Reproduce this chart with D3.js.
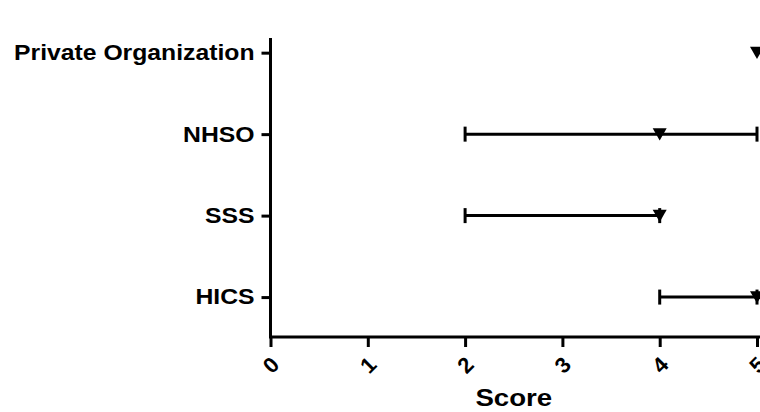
<!DOCTYPE html>
<html><head><meta charset="utf-8">
<script src="https://cdn.jsdelivr.net/npm/d3@7"></script>
<style>body{margin:0;background:#fff}svg{display:block}text{font-family:Arial,"Liberation Sans",sans-serif;font-weight:bold;fill:#000}</style>
</head><body>
<svg id="chart" width="760" height="412"></svg>
<script>
const categories = ["HICS", "SSS", "NHSO", "Private Organization"];
const medians = [5, 4, 4, 5];
const lows = [4, 2, 2, 5];
const highs = [5, 4, 5, 5];
const xTicks = [0, 1, 2, 3, 4, 5];
const xTitle = "Score";

const svg = d3.select("#chart");
const x = d3.scaleLinear().domain([0, 5]).range([270.5, 757]);
const y = d3.scaleLinear().domain([-0.49, 3.18]).range([337, 38]);
const stretch = 1.15;

// y axis
const yAxis = svg.append("g").attr("transform", `translate(${x(0)},0)`)
  .call(d3.axisLeft(y).tickValues(d3.range(categories.length)).tickFormat(i => categories[i]).tickSize(9).tickSizeOuter(0).tickPadding(7));
yAxis.selectAll("path,line").attr("stroke", "#000").attr("stroke-width", 3);
yAxis.select(".domain").attr("d", `M0,${y.range()[1]}V${y.range()[0]}`);
yAxis.selectAll("text").style("font-size", "21.5px").attr("fill", "#000");

// x axis
const xAxis = svg.append("g").attr("transform", `translate(0,${y(-0.49)})`)
  .call(d3.axisBottom(x).tickValues(xTicks).tickFormat(d3.format("d")).tickSize(10).tickSizeOuter(0));
xAxis.selectAll("path,line").attr("stroke", "#000").attr("stroke-width", 3);
xAxis.select(".domain").attr("d", `M${x(0)-1.5},0H${x(5)+3}`);
xAxis.selectAll("text").style("font-size", "22px").attr("fill", "#000")
  .attr("y", null).attr("dy", null)
  .attr("text-anchor", "middle").attr("dominant-baseline", "central")
  .attr("transform", "translate(0,28) rotate(-45)");

svg.append("text").attr("x", (x(0) + x(5)) / 2).attr("y", 406)
  .attr("text-anchor", "middle").style("font-size", "24px").text(xTitle);

// stretch texts horizontally
svg.selectAll("g.tick text, svg > text").each(function() {
  const el = d3.select(this);
  const len = this.getComputedTextLength();
  if (this.textContent.length > 1) el.attr("textLength", len * stretch).attr("lengthAdjust", "spacingAndGlyphs");
});

// error bars
const data = categories.map((c, i) => ({i, med: medians[i], lo: lows[i], hi: highs[i]}));
const g = svg.append("g");
g.selectAll("line.bar").data(data.filter(d => d.hi > d.lo)).join("line")
  .attr("x1", d => x(d.lo)).attr("x2", d => x(d.hi))
  .attr("y1", d => y(d.i)).attr("y2", d => y(d.i))
  .attr("stroke", "#000").attr("stroke-width", 3);
const caps = [];
data.filter(d => d.hi > d.lo).forEach(d => { caps.push({i: d.i, v: d.lo}); caps.push({i: d.i, v: d.hi}); });
g.selectAll("line.cap").data(caps).join("line")
  .attr("x1", d => x(d.v)).attr("x2", d => x(d.v))
  .attr("y1", d => y(d.i) - 7.5).attr("y2", d => y(d.i) + 7.5)
  .attr("stroke", "#000").attr("stroke-width", 3);
g.selectAll("path.pt").data(data).join("path")
  .attr("d", d3.symbol(d3.symbolTriangle, 85))
  .attr("transform", d => `translate(${x(d.med)},${y(d.i) - 1.8}) rotate(180)`)
  .attr("fill", "#000");
</script>
</body></html>
